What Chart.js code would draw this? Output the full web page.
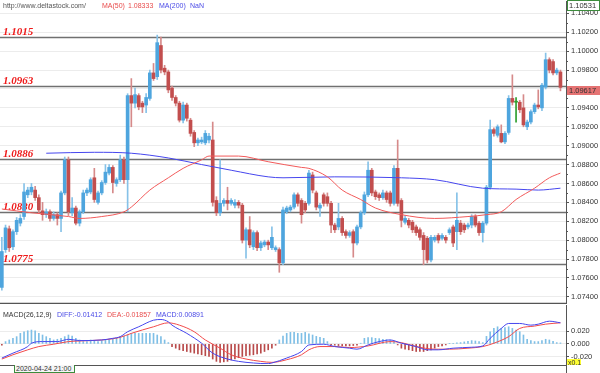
<!DOCTYPE html>
<html>
<head>
<meta charset="utf-8">
<script src="https://cdn.jsdelivr.net/npm/chart.js@4.4.1/dist/chart.umd.min.js"></script>
<style>
  html, body { margin: 0; padding: 0; background: #fff; }
  #wrap { position: relative; width: 600px; height: 373px; overflow: hidden; font-family: "Liberation Sans", Arial, sans-serif; }
  #priceCanvas { position: absolute; left: 0; top: 0; }
  #macdCanvas { position: absolute; left: 0; top: 304px; }
  #bottomLine { position: absolute; left: 0; top: 365px; width: 566px; height: 1px; background: #555; }
  #axisLine { position: absolute; left: 566px; top: 365px; width: 1px; height: 8px; background: #555; }
  #dateBox { position: absolute; left: 14px; top: 365px; width: 58px; height: 7px; border: 1px solid #3c8c3c; border-top: none; background: #f6f6f6; font-size: 7px; line-height: 7px; color: #333; padding-left: 1px; }
</style>
</head>
<body>
<div id="wrap">
  <canvas id="priceCanvas" width="600" height="304"></canvas>
  <canvas id="macdCanvas" width="600" height="61"></canvas>
  <div id="bottomLine"></div>
  <div id="axisLine"></div>
  <div id="dateBox">2020-04-24 21:00</div>
</div>
<script>
// --- candles (one per bar, left to right) ---
const candleOpen = [
  1.0750, 1.0790, 1.0812, 1.0793, 1.0809, 1.0818, 1.0825, 1.0848, 1.0851, 1.0853,
  1.0845, 1.0831, 1.0827, 1.0830, 1.0823, 1.0827, 1.0823, 1.0850, 1.0885, 1.0829,
  1.0834, 1.0818, 1.0830, 1.0850, 1.0851, 1.0866, 1.0840, 1.0850, 1.0861, 1.0871,
  1.0877, 1.0860, 1.0864, 1.0885, 1.0864, 1.0953, 1.0945, 1.0953, 1.0945, 1.0943,
  1.0950, 1.0977, 1.0973, 1.1006, 1.0982, 1.0978, 1.0961, 1.0951, 1.0945, 1.0927,
  1.0943, 1.0927, 1.0914, 1.0903, 1.0904, 1.0903, 1.0906, 1.0906, 1.0842, 1.0829,
  1.0839, 1.0842, 1.0839, 1.0837, 1.0840, 1.0837, 1.0800, 1.0811, 1.0793, 1.0808,
  1.0792, 1.0795, 1.0798, 1.0792, 1.0790, 1.0790, 1.0776, 1.0830, 1.0832, 1.0835,
  1.0848, 1.0842, 1.0839, 1.0839, 1.0869, 1.0850, 1.0834, 1.0848, 1.0846, 1.0839,
  1.0816, 1.0814, 1.0823, 1.0809, 1.0805, 1.0809, 1.0797, 1.0814, 1.0829, 1.0848,
  1.0874, 1.0851, 1.0848, 1.0845, 1.0850, 1.0850, 1.0839, 1.0876, 1.0842, 1.0819,
  1.0821, 1.0819, 1.0814, 1.0811, 1.0805, 1.0802, 1.0779, 1.0800, 1.0805, 1.0802,
  1.0803, 1.0808, 1.0814, 1.0809, 1.0818, 1.0816, 1.0814, 1.0816, 1.0825, 1.0818,
  1.0808, 1.0818, 1.0856, 1.0917, 1.0911, 1.0913, 1.0904, 1.0914, 1.0950, 1.0946,
  1.0946, 1.0940, 1.0920, 1.0925, 1.0936, 1.0943, 1.0940, 1.0962, 1.0991, 1.0989,
  1.0977, 1.0978
];
const candleHigh = [
  1.0803, 1.0816, 1.0815, 1.0811, 1.0824, 1.0827, 1.0860, 1.0856, 1.0860, 1.0857,
  1.0848, 1.0840, 1.0833, 1.0832, 1.0830, 1.0829, 1.0852, 1.0888, 1.0888, 1.0845,
  1.0836, 1.0832, 1.0853, 1.0855, 1.0866, 1.0876, 1.0852, 1.0863, 1.0880, 1.0880,
  1.0879, 1.0866, 1.0890, 1.0888, 1.0955, 1.0971, 1.0961, 1.0955, 1.0947, 1.0955,
  1.0980, 1.0987, 1.1017, 1.1015, 1.0985, 1.0980, 1.0963, 1.0953, 1.0947, 1.0946,
  1.0945, 1.0929, 1.0916, 1.0908, 1.0909, 1.0916, 1.0913, 1.0925, 1.0846, 1.0885,
  1.0844, 1.0856, 1.0844, 1.0843, 1.0842, 1.0839, 1.0813, 1.0825, 1.0810, 1.0810,
  1.0799, 1.0800, 1.0800, 1.0814, 1.0794, 1.0792, 1.0835, 1.0836, 1.0837, 1.0850,
  1.0850, 1.0844, 1.0841, 1.0874, 1.0872, 1.0852, 1.0839, 1.0850, 1.0850, 1.0841,
  1.0818, 1.0839, 1.0825, 1.0811, 1.0810, 1.0811, 1.0816, 1.0831, 1.0851, 1.0883,
  1.0876, 1.0853, 1.0850, 1.0853, 1.0852, 1.0852, 1.0879, 1.0906, 1.0844, 1.0826,
  1.0823, 1.0821, 1.0816, 1.0813, 1.0808, 1.0804, 1.0805, 1.0805, 1.0807, 1.0807,
  1.0805, 1.0813, 1.0816, 1.0850, 1.0821, 1.0818, 1.0818, 1.0827, 1.0827, 1.0820,
  1.0820, 1.0858, 1.0927, 1.0919, 1.0922, 1.0922, 1.0915, 1.0953, 1.0975, 1.0951,
  1.0948, 1.0954, 1.0927, 1.0938, 1.0945, 1.0959, 1.0966, 1.0998, 1.0993, 1.0991,
  1.0982, 1.0980
];
const candleLow = [
  1.0747, 1.0787, 1.0788, 1.0790, 1.0806, 1.0815, 1.0822, 1.0845, 1.0848, 1.0842,
  1.0829, 1.0821, 1.0824, 1.0820, 1.0821, 1.0816, 1.0809, 1.0848, 1.0826, 1.0826,
  1.0816, 1.0815, 1.0828, 1.0847, 1.0849, 1.0840, 1.0838, 1.0848, 1.0859, 1.0869,
  1.0850, 1.0857, 1.0862, 1.0860, 1.0830, 1.0920, 1.0940, 1.0938, 1.0935, 1.0935,
  1.0948, 1.0969, 1.0970, 1.0977, 1.0975, 1.0956, 1.0948, 1.0942, 1.0925, 1.0924,
  1.0926, 1.0910, 1.0899, 1.0900, 1.0902, 1.0901, 1.0903, 1.0836, 1.0826, 1.0826,
  1.0836, 1.0832, 1.0837, 1.0834, 1.0834, 1.0797, 1.0781, 1.0792, 1.0790, 1.0789,
  1.0789, 1.0793, 1.0790, 1.0790, 1.0788, 1.0766, 1.0774, 1.0828, 1.0830, 1.0833,
  1.0836, 1.0818, 1.0829, 1.0837, 1.0850, 1.0832, 1.0825, 1.0836, 1.0836, 1.0808,
  1.0808, 1.0811, 1.0805, 1.0802, 1.0803, 1.0782, 1.0795, 1.0812, 1.0827, 1.0846,
  1.0847, 1.0843, 1.0842, 1.0843, 1.0840, 1.0836, 1.0837, 1.0836, 1.0814, 1.0817,
  1.0813, 1.0808, 1.0805, 1.0800, 1.0774, 1.0776, 1.0777, 1.0798, 1.0797, 1.0800,
  1.0797, 1.0806, 1.0793, 1.0790, 1.0806, 1.0808, 1.0812, 1.0813, 1.0814, 1.0805,
  1.0798, 1.0816, 1.0854, 1.0910, 1.0909, 1.0903, 1.0902, 1.0912, 1.0943, 1.0925,
  1.0935, 1.0920, 1.0917, 1.0923, 1.0934, 1.0939, 1.0937, 1.0960, 1.0977, 1.0975,
  1.0975, 1.0958
];
const candleClose = [
  1.0788, 1.0813, 1.0792, 1.0809, 1.0821, 1.0823, 1.0851, 1.0853, 1.0856, 1.0845,
  1.0832, 1.0827, 1.0830, 1.0823, 1.0827, 1.0823, 1.0850, 1.0885, 1.0830, 1.0834,
  1.0818, 1.0830, 1.0850, 1.0853, 1.0864, 1.0843, 1.0850, 1.0861, 1.0872, 1.0877,
  1.0861, 1.0864, 1.0885, 1.0864, 1.0953, 1.0945, 1.0954, 1.0941, 1.0941, 1.0951,
  1.0977, 1.0971, 1.1009, 1.0980, 1.0978, 1.0959, 1.0951, 1.0945, 1.0927, 1.0943,
  1.0929, 1.0913, 1.0903, 1.0906, 1.0906, 1.0913, 1.0910, 1.0840, 1.0829, 1.0839,
  1.0842, 1.0839, 1.0842, 1.0840, 1.0837, 1.0800, 1.0811, 1.0795, 1.0808, 1.0792,
  1.0797, 1.0798, 1.0795, 1.0803, 1.0792, 1.0776, 1.0832, 1.0834, 1.0835, 1.0848,
  1.0839, 1.0827, 1.0832, 1.0871, 1.0853, 1.0835, 1.0837, 1.0839, 1.0839, 1.0816,
  1.0811, 1.0823, 1.0808, 1.0805, 1.0808, 1.0797, 1.0814, 1.0829, 1.0848, 1.0874,
  1.0850, 1.0846, 1.0845, 1.0850, 1.0843, 1.0839, 1.0876, 1.0839, 1.0821, 1.0823,
  1.0816, 1.0811, 1.0808, 1.0803, 1.0790, 1.0779, 1.0803, 1.0803, 1.0800, 1.0805,
  1.0800, 1.0811, 1.0797, 1.0821, 1.0809, 1.0811, 1.0816, 1.0825, 1.0816, 1.0808,
  1.0818, 1.0856, 1.0917, 1.0913, 1.0920, 1.0904, 1.0913, 1.0950, 1.0946, 1.0946,
  1.0938, 1.0922, 1.0925, 1.0936, 1.0943, 1.0941, 1.0964, 1.0991, 1.0980, 1.0977,
  1.0980, 1.09617
];

// --- moving averages (bar index, value) ---
const ma50Idx = [0, 8, 18, 21, 27, 33, 35, 40, 45, 49, 54, 56, 64, 72, 81, 83, 88, 92, 97, 101, 108, 117, 126, 131, 135, 139, 144, 148, 151];
const ma50Val = [1.0833, 1.0829, 1.0825, 1.0823, 1.0825, 1.0830, 1.0835, 1.0853, 1.0866, 1.0876, 1.0885, 1.0889, 1.0889, 1.0883, 1.0877, 1.0876, 1.0867, 1.0853, 1.0843, 1.0834, 1.0827, 1.0823, 1.0825, 1.0827, 1.0830, 1.0843, 1.0855, 1.0866, 1.0871];
const ma200Idx = [12, 25, 35, 45, 54, 62, 72, 76, 90, 108, 117, 130, 139, 145, 151];
const ma200Val = [1.0892, 1.0893, 1.0892, 1.0887, 1.0880, 1.0874, 1.0867, 1.0866, 1.0867, 1.0866, 1.0864, 1.0855, 1.0854, 1.0853, 1.0855];

// --- support / resistance levels and axis ticks ---
const levels = [1.1015, 1.0963, 1.0886, 1.0830, 1.0775];
const priceTicks = [1.074, 1.076, 1.078, 1.080, 1.082, 1.084, 1.086, 1.088, 1.090, 1.092, 1.094, 1.096, 1.098, 1.100, 1.102, 1.104];
const priceMin = 1.07335, priceMax = 1.10531;

// --- MACD panel ---
const macdHist = [
  -0.0021, 0.0037, 0.0063, 0.0089, 0.0116, 0.0168, 0.0194, 0.0210, 0.0221, 0.0210,
  0.0168, 0.0142, 0.0116, 0.0089, 0.0063, 0.0074, 0.0089, 0.0116, 0.0142, 0.0126,
  0.0089, 0.0063, 0.0037, 0.0037, 0.0063, 0.0053, 0.0037, 0.0053, 0.0063, 0.0063,
  0.0074, 0.0089, 0.0116, 0.0126, 0.0142, 0.0168, 0.0168, 0.0168, 0.0168, 0.0168,
  0.0168, 0.0168, 0.0142, 0.0116, 0.0063, 0.0021, -0.0042, -0.0068, -0.0094, -0.0108,
  -0.0121, -0.0134, -0.0147, -0.0160, -0.0173, -0.0187, -0.0200, -0.0241, -0.0278, -0.0294,
  -0.0286, -0.0278, -0.0255, -0.0241, -0.0220, -0.0200, -0.0187, -0.0180, -0.0173, -0.0160,
  -0.0147, -0.0121, -0.0094, -0.0068, -0.0021, 0.0063, 0.0126, 0.0168, 0.0184, 0.0184,
  0.0168, 0.0168, 0.0184, 0.0160, 0.0142, 0.0120, 0.0105, 0.0089, 0.0037, -0.0016,
  -0.0021, -0.0026, -0.0032, -0.0032, -0.0032, -0.0026, -0.0021, 0.0011, 0.0089, 0.0100,
  0.0100, 0.0089, 0.0084, 0.0074, 0.0068, 0.0063, 0.0037, -0.0016, -0.0068, -0.0084,
  -0.0094, -0.0108, -0.0121, -0.0121, -0.0121, -0.0108, -0.0094, -0.0068, -0.0042, -0.0030,
  -0.0016, 0.0005, 0.0011, 0.0016, 0.0021, 0.0032, 0.0042, 0.0053, 0.0047, 0.0037,
  0.0021, 0.0120, 0.0194, 0.0247, 0.0273, 0.0247, 0.0260, 0.0273, 0.0247, 0.0220,
  0.0194, 0.0142, 0.0074, 0.0053, 0.0037, 0.0037, 0.0053, 0.0074, 0.0063, 0.0042,
  0.0021, 0.0016
];
const diffIdx = [0, 3, 7, 8, 11, 15, 17, 18, 21, 27, 30, 32, 34, 37, 41, 43, 45, 46, 50, 54, 57, 61, 64, 68, 72, 73, 77, 81, 83, 87, 90, 94, 96, 99, 102, 105, 108, 112, 115, 118, 122, 127, 130, 132, 135, 137, 140, 143, 145, 148, 151];
const diffVal = [-0.0225, -0.0147, -0.0042, 0.0011, 0.0037, 0.0037, 0.0063, 0.0074, 0.0053, 0.0063, 0.0089, 0.0116, 0.0194, 0.0273, 0.0378, 0.0389, 0.0352, 0.0299, 0.0168, 0.0011, -0.0147, -0.0241, -0.0278, -0.0304, -0.0315, -0.0304, -0.0225, -0.0121, -0.0016, -0.0005, -0.0042, -0.0068, -0.0084, -0.0016, 0.0037, 0.0063, 0.0011, -0.0042, -0.0094, -0.0094, -0.0068, -0.0053, -0.0032, 0.0089, 0.0247, 0.0326, 0.0326, 0.0299, 0.0315, 0.0362, 0.0336];
const deaIdx = [0, 3, 7, 10, 14, 18, 21, 27, 32, 35, 41, 45, 48, 52, 55, 59, 62, 66, 70, 73, 77, 81, 83, 86, 90, 94, 99, 105, 108, 112, 117, 121, 126, 130, 133, 137, 140, 144, 147, 151];
const deaVal = [-0.0241, -0.0173, -0.0094, -0.0042, -0.0005, 0.0037, 0.0047, 0.0063, 0.0105, 0.0168, 0.0273, 0.0336, 0.0299, 0.0194, 0.0063, -0.0068, -0.0173, -0.0241, -0.0278, -0.0294, -0.0252, -0.0173, -0.0094, -0.0042, -0.0042, -0.0058, -0.0032, 0.0037, 0.0021, -0.0042, -0.0084, -0.0084, -0.0068, -0.0042, 0.0011, 0.0116, 0.0247, 0.0284, 0.0315, 0.0336];
const macdTicks = [-0.02, 0, 0.02];
const macdMin = -0.032, macdMax = 0.062;

// --- colours ---
const UP = '#4ea5de', DOWN = '#c24e4e', DOJI = '#2e9e2e';
const UP_WICK = '#86c2e8', DOWN_WICK = '#d68a8a';
const RED_TXT = '#e84c4c', BLUE_TXT = '#4a4ae6';
const SANS = '"Liberation Sans", Arial, sans-serif';

const idx = candleClose.map((_, i) => i);
const bodyColors = idx.map(i => candleClose[i] > candleOpen[i] ? UP : candleClose[i] < candleOpen[i] ? DOWN : DOJI);
const wickColors = idx.map(i => candleClose[i] > candleOpen[i] ? UP_WICK : candleClose[i] < candleOpen[i] ? DOWN_WICK : DOJI);
const xMax = idx.length + 0.5;

const rightAxis = (min, max, tickList, digits) => ({
    position: 'right',
    min, max,
    afterBuildTicks: s => { s.ticks = tickList.map(v => ({ value: v })); },
    // fixed axis width, and no extra room reserved for half tick labels
    afterFit: s => { s.width = 34; s.paddingTop = 0; s.paddingBottom = 0; },
    ticks: { autoSkip: false, padding: 2, color: '#333', font: { family: SANS, size: 7.5 },
             callback: v => Number(v).toFixed(digits) },
    grid: { color: '#ececec', tickColor: '#555', tickLength: 3 },
    border: { color: '#555' }
});

const barIndexAxis = { type: 'linear', min: -0.5, max: xMax, offset: false, display: false, grid: { offset: false } };

// --- overlay for the price pane: levels, header, value boxes ---
const priceOverlay = {
    id: 'priceOverlay',
    beforeDatasetsDraw(chart) {
        const { ctx, chartArea: a, scales: { y } } = chart;
        ctx.save();
        levels.forEach(v => {
            const py = Math.round(y.getPixelForValue(v)) + 0.5;
            ctx.strokeStyle = '#707070';
            ctx.lineWidth = 1.5;
            ctx.beginPath();
            ctx.moveTo(a.left, py);
            ctx.lineTo(a.right, py);
            ctx.stroke();
            ctx.fillStyle = '#ee1a1a';
            ctx.font = 'italic bold 11px "Liberation Serif", serif';
            ctx.textBaseline = 'alphabetic';
            ctx.fillText(v.toFixed(4), a.left + 3, py - 3);
        });
        ctx.restore();
    },
    afterDraw(chart) {
        const { ctx, chartArea: a, scales: { y } } = chart;
        ctx.save();
        // header
        ctx.font = '7px ' + SANS;
        ctx.textBaseline = 'middle';
        ctx.fillStyle = '#555';
        ctx.fillText('http://www.deltastock.com/', 3, 6);
        ctx.fillStyle = RED_TXT;
        ctx.fillText('MA(50)', 102, 6);
        ctx.fillText('1.08333', 128, 6);
        ctx.fillStyle = BLUE_TXT;
        ctx.fillText('MA(200)', 159, 6);
        ctx.fillText('NaN', 190, 6);

        // minor ticks on the price axis
        ctx.strokeStyle = '#555';
        ctx.lineWidth = 1;
        priceTicks.forEach(v => {
            const py = Math.round(y.getPixelForValue(v + 0.001)) + 0.5;
            ctx.beginPath(); ctx.moveTo(a.right, py); ctx.lineTo(a.right + 2, py); ctx.stroke();
        });

        // pane separator
        ctx.strokeStyle = '#555';
        ctx.lineWidth = 1.5;
        ctx.beginPath(); ctx.moveTo(0, a.bottom + 0.5); ctx.lineTo(a.right, a.bottom + 0.5); ctx.stroke();

        // top-of-scale box
        ctx.font = '7.5px ' + SANS;
        ctx.fillStyle = '#fff';
        ctx.fillRect(a.right + 1, 0, 32, 10);
        ctx.strokeStyle = '#3c8c3c';
        ctx.lineWidth = 1;
        ctx.strokeRect(a.right + 1.5, 0.5, 32, 10);
        ctx.fillStyle = '#333';
        ctx.fillText(priceMax.toFixed(5), a.right + 3, 6);

        // last price box
        const last = candleClose[candleClose.length - 1];
        const ly = Math.round(y.getPixelForValue(last));
        ctx.fillStyle = '#e57373';
        ctx.fillRect(a.right + 1, ly - 1, 33, 9);
        ctx.fillStyle = '#333';
        ctx.fillText(last.toFixed(5), a.right + 3, ly + 3.5);
        ctx.restore();
    }
};

// --- overlay for the MACD pane ---
const macdOverlay = {
    id: 'macdOverlay',
    afterDraw(chart) {
        const { ctx, chartArea: a } = chart;
        ctx.save();
        ctx.font = '7px ' + SANS;
        ctx.textBaseline = 'middle';
        ctx.fillStyle = '#333';
        ctx.fillText('MACD(26,12,9)', 3, 11);
        ctx.fillStyle = BLUE_TXT;
        ctx.fillText('DIFF:-0.01412', 57, 11);
        ctx.fillStyle = RED_TXT;
        ctx.fillText('DEA:-0.01857', 107, 11);
        ctx.fillStyle = BLUE_TXT;
        ctx.fillText('MACD:0.00891', 156, 11);

        // scale factor tag
        ctx.fillStyle = '#ffff33';
        ctx.fillRect(a.right + 1, 55, 14, 8);
        ctx.fillStyle = '#333';
        ctx.fillText('x0.1', a.right + 2, 59);
        ctx.restore();
    }
};

const noLegend = { legend: { display: false }, tooltip: { enabled: false } };

new Chart(document.getElementById('priceCanvas'), {
    type: 'bar',
    data: {
        datasets: [
            {
                type: 'bar',
                data: idx.map(i => ({ x: i, y: [candleLow[i], candleHigh[i]] })),
                backgroundColor: wickColors,
                barThickness: 1,
                grouped: false,
                order: 3
            },
            {
                type: 'bar',
                data: idx.map(i => ({ x: i, y: [candleOpen[i], candleClose[i]] })),
                backgroundColor: bodyColors,
                barThickness: 3,
                minBarLength: 1,
                grouped: false,
                order: 2
            },
            {
                type: 'line',
                data: ma50Idx.map((x, k) => ({ x, y: ma50Val[k] })),
                borderColor: '#f25a5a',
                borderWidth: 1,
                pointRadius: 0,
                cubicInterpolationMode: 'monotone',
                order: 1
            },
            {
                type: 'line',
                data: ma200Idx.map((x, k) => ({ x, y: ma200Val[k] })),
                borderColor: '#4646ee',
                borderWidth: 1,
                pointRadius: 0,
                cubicInterpolationMode: 'monotone',
                order: 1
            }
        ]
    },
    options: {
        responsive: false,
        animation: false,
        devicePixelRatio: 1,
        layout: { padding: { top: 1, bottom: 1, left: 0, right: 0 } },
        plugins: noLegend,
        scales: {
            x: barIndexAxis,
            y: rightAxis(priceMin, priceMax, priceTicks, 5)
        }
    },
    plugins: [priceOverlay]
});

new Chart(document.getElementById('macdCanvas'), {
    type: 'bar',
    data: {
        datasets: [
            {
                type: 'bar',
                data: idx.map(i => ({ x: i, y: macdHist[i] })),
                backgroundColor: macdHist.map(v => v >= 0 ? '#7fbfe6' : '#b84a4a'),
                barThickness: 1,
                grouped: false,
                order: 2
            },
            {
                type: 'line',
                data: diffIdx.map((x, k) => ({ x, y: diffVal[k] })),
                borderColor: '#4646ee',
                borderWidth: 1,
                pointRadius: 0,
                cubicInterpolationMode: 'monotone',
                order: 1
            },
            {
                type: 'line',
                data: deaIdx.map((x, k) => ({ x, y: deaVal[k] })),
                borderColor: '#f24a4a',
                borderWidth: 1,
                pointRadius: 0,
                cubicInterpolationMode: 'monotone',
                order: 1
            }
        ]
    },
    options: {
        responsive: false,
        animation: false,
        devicePixelRatio: 1,
        layout: { padding: { top: 1, bottom: 1, left: 0, right: 0 } },
        plugins: noLegend,
        scales: {
            x: barIndexAxis,
            y: rightAxis(macdMin, macdMax, macdTicks, 3)
        }
    },
    plugins: [macdOverlay]
});
</script>
</body>
</html>
